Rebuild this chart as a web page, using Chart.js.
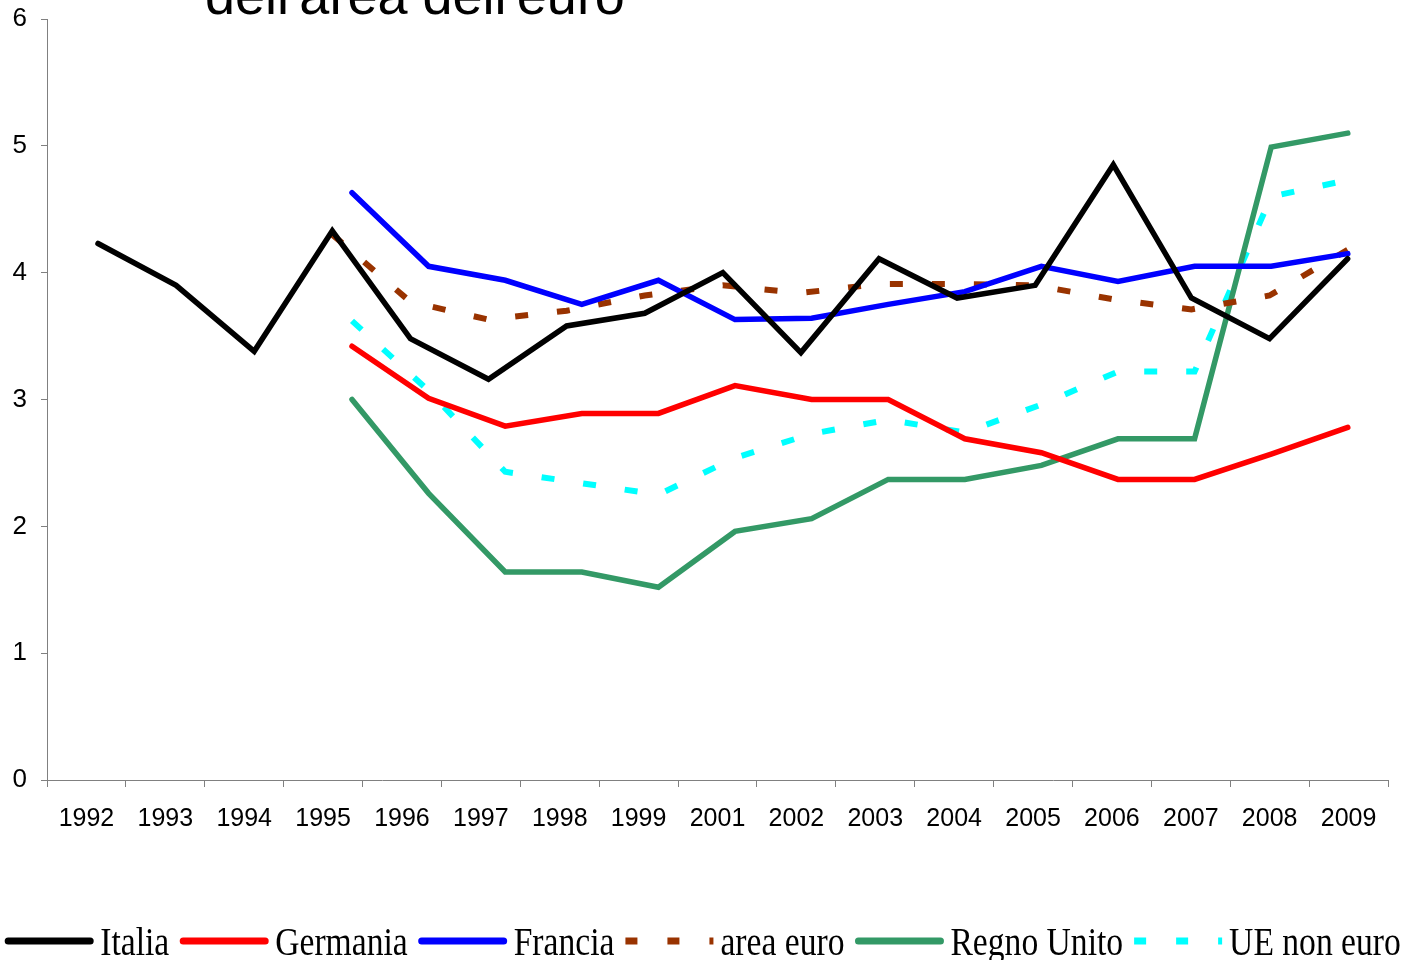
<!DOCTYPE html>
<html><head><meta charset="utf-8">
<script src="https://cdn.jsdelivr.net/npm/chart.js@4.4.1/dist/chart.umd.min.js"></script>
<style>html,body{margin:0;padding:0;background:#fff}#wrap{width:1411px;height:960px;position:relative}</style>
</head><body><div id="wrap"><canvas id="c"></canvas></div>
<script>
const years = ['1992','1993','1994','1995','1996','1997','1998','1999','2001','2002','2003','2004','2005','2006','2007','2008','2009'];
const italia    = [4.23,3.90,3.38,4.33,3.48,3.16,3.58,3.68,4.00,3.37,4.11,3.80,3.90,4.85,3.80,3.48,4.11];
const germania  = [null,null,null,3.42,3.01,2.79,2.89,2.89,3.11,3.00,3.00,2.69,2.58,2.37,2.37,2.57,2.78];
const francia   = [null,null,null,4.63,4.05,3.94,3.75,3.94,3.63,3.64,3.75,3.85,4.05,3.93,4.05,4.05,4.15];
const areaEuro  = [null,null,null,4.30,3.77,3.63,3.70,3.82,3.90,3.84,3.91,3.91,3.90,3.79,3.71,3.82,4.18];
const regnoUnito= [null,null,null,3.00,2.26,1.64,1.64,1.52,1.96,2.06,2.37,2.37,2.48,2.69,2.69,4.99,5.10];
const ueNonEuro = [null,null,null,3.62,3.07,2.43,2.34,2.25,2.54,2.73,2.84,2.74,2.96,3.22,3.22,4.60,4.73];
const yTickValues = [0,1,2,3,4,5,6];
const titleText = "dell'area dell'euro";

const toXY = arr => arr.map((v,i)=> v===null ? null : {x:i, y:v}).filter(p=>p!==null);

const sansFamily = '"Liberation Sans", Arial, sans-serif';

const titlePlugin = {
  id:'cutTitle',
  afterDraw(chart){
    const ctx = chart.ctx; ctx.save();
    ctx.font = '54px ' + sansFamily; ctx.fillStyle = '#000';
    ctx.textAlign = 'left'; ctx.textBaseline = 'alphabetic';
    ctx.fillText(titleText, 205, 14);
    ctx.restore();
  }
};

const legendPlugin = {
  id:'customLegend',
  afterDraw(chart){
    const ctx = chart.ctx; ctx.save();
    const sx = 0.84, sampleW = 88, gapA = 7, gapB = 11, y = 941;
    ctx.font = '40px "Liberation Serif", "Times New Roman", serif';
    const items = chart.data.datasets.map(ds => ({ds, tw: ctx.measureText(ds.label).width * sx}));
    const total = items.reduce((s,it)=> s + sampleW + gapA + it.tw, 0) + gapB*(items.length-1);
    let x = 703 - total/2;
    items.forEach(it => {
      const dashed = it.ds.borderDash && it.ds.borderDash.length;
      ctx.save();
      ctx.strokeStyle = it.ds.borderColor; ctx.lineWidth = 7;
      ctx.setLineDash(dashed ? [12,30] : []);
      ctx.lineCap = dashed ? 'butt' : 'round';
      ctx.beginPath();
      ctx.moveTo(x + (dashed?0:3), y); ctx.lineTo(x + sampleW - (dashed?0:3), y); ctx.stroke();
      ctx.restore();
      x += sampleW + gapA;
      ctx.save();
      ctx.translate(x, 955); ctx.scale(sx, 1);
      ctx.fillStyle = '#000'; ctx.textAlign = 'left'; ctx.textBaseline = 'alphabetic';
      ctx.fillText(it.ds.label, 0, 0);
      ctx.restore();
      x += it.tw + gapB;
    });
    ctx.restore();
  }
};

const mk = (label, data, color, axis, dash, width) => ({
  label, data: toXY(data), xAxisID: axis, borderColor: color, backgroundColor: color,
  borderWidth: width, borderDash: dash || [], pointRadius: 0, pointHoverRadius: 0,
  tension: 0, fill: false, borderCapStyle: dash ? 'butt' : 'round', borderJoinStyle: 'miter'
});

new Chart(document.getElementById('c'), {
  type: 'line',
  data: {
    labels: years,
    datasets: [
      mk('Italia', italia, '#000000', 'xA', null, 5.5),
      mk('Germania', germania, '#FF0000', 'xB', null, 5.5),
      mk('Francia', francia, '#0000FF', 'xB', null, 5.5),
      mk('area euro', areaEuro, '#993300', 'xA', [13,29], 6),
      mk('Regno Unito', regnoUnito, '#339966', 'xB', null, 5.5),
      mk('UE non euro', ueNonEuro, '#00FFFF', 'xB', [13,29], 6)
    ]
  },
  options: {
    responsive: true, maintainAspectRatio: false, animation: false,
    layout: { padding: { top: 19, right: 23, bottom: 120, left: 0 } },
    plugins: { legend: { display: false }, title: { display: false }, tooltip: { enabled: false } },
    scales: {
      x: {
        type: 'category', position: 'bottom', offset: true,
        grid: { display: true, drawOnChartArea: false, drawTicks: true, tickLength: 7, color: '#808080', offset: true },
        border: { display: true, color: '#808080', width: 1 },
        ticks: { color: '#000', font: { family: sansFamily, size: 25 }, padding: 17, maxRotation: 0, autoSkip: false },
        afterFit: s => { s.height = 60; s.paddingLeft = 0; s.paddingRight = 0; }
      },
      xA: { type: 'linear', display: false, min: -0.653, max: 16.517 },
      xB: { type: 'linear', display: false, min: -0.982, max: 16.525 },
      y: {
        min: 0, max: 6,
        afterBuildTicks: s => { s.ticks = yTickValues.map(v => ({ value: v })); },
        grid: { display: true, drawOnChartArea: false, drawTicks: true, tickLength: 6, color: '#808080' },
        border: { display: true, color: '#808080', width: 1 },
        ticks: { color: '#000', font: { family: sansFamily, size: 26 }, padding: 14 },
        afterFit: s => { s.width = 47; s.paddingTop = 0; s.paddingBottom = 0; }
      }
    }
  },
  plugins: [titlePlugin, legendPlugin]
});
</script>
</body></html>
